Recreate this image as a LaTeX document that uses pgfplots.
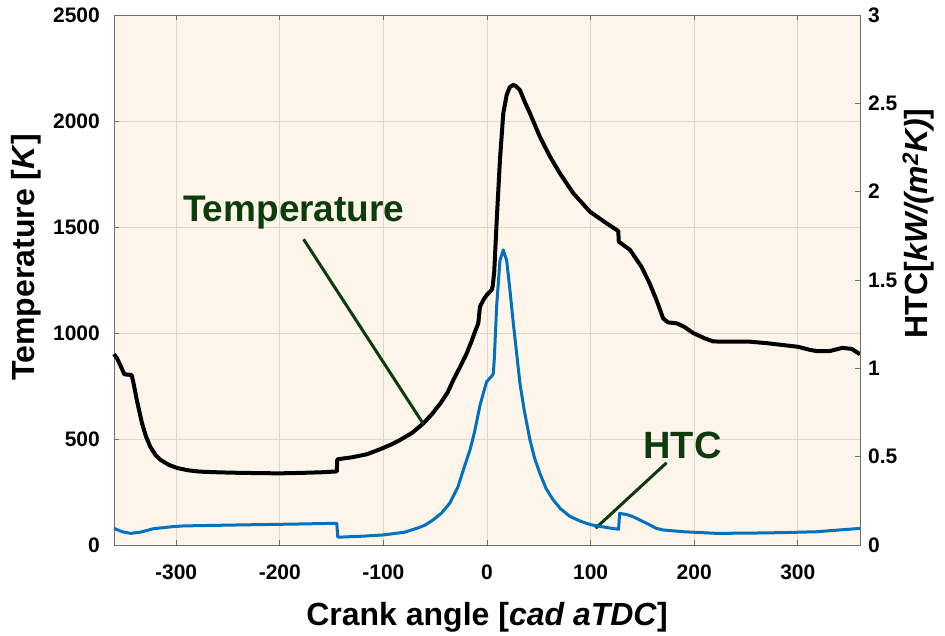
\documentclass[border=0pt]{standalone}
\usepackage{fontspec}
\setmainfont{Liberation Sans}
\usepackage{pgfplots}
\pgfplotsset{compat=1.18}
\definecolor{bgc}{RGB}{253,245,234}
\definecolor{gridc}{RGB}{221,214,204}
\definecolor{annc}{RGB}{12,60,12}
\definecolor{htcblue}{RGB}{0,114,189}
\definecolor{axc}{RGB}{110,110,110}
\begin{document}
\begin{tikzpicture}
\useasboundingbox (-114pt,-90pt) rectangle (831pt,545pt);
\begin{axis}[
 at={(0pt,0pt)}, anchor=south west,
 scale only axis, width=746pt, height=530pt,
 xmin=-360, xmax=360, ymin=0, ymax=2500,
 xtick={-300,-200,...,300}, ytick={0,500,...,2500},
 axis background/.style={fill=bgc},
 grid=major, major grid style={gridc, line width=0.8pt},
 axis line style={axc, line width=0.8pt},
 tick style={axc, line width=0.8pt}, major tick length=5pt,
 tick align=inside,
 ytick pos=left, xtick pos=both,
 /pgf/number format/assume math mode=true,
 /pgf/number format/1000 sep={},
 scaled ticks=false,
 tick label style={font=\fontsize{21}{24}\selectfont\bfseries, inner sep=0pt},
 yticklabel style={anchor=east, xshift=-14pt},
 xticklabel style={anchor=north, yshift=-20pt},
 xlabel={Crank angle [\textit{cad aTDC}]},
 xlabel style={font=\fontsize{32}{36}\selectfont\bfseries, at={(axis description cs:0.5,-0.151)}, anchor=base},
 ylabel={Temperature [\textit{K}]},
 ylabel style={font=\fontsize{32}{36}\selectfont\bfseries, at={(axis description cs:-0.117,0.543)}, anchor=center, rotate=0},
 clip=false,
]
\addplot[black, line width=4pt, line join=round] coordinates {
(-360,900) (-357,880) (-354,849) (-350,805) (-343,802) (-341,760) (-338,684) (-333,575) (-329,510) (-325,464) (-320,425) (-315,401) (-307,378) (-299,363) (-288,352) (-277,346) (-260,343) (-245,341) (-220,339) (-200,338) (-180,340) (-160,343) (-145,347) (-144.5,404) (-130,414) (-116,428) (-103,452) (-92,475) (-84,495) (-72,530) (-61.4,574) (-53,618) (-45,668) (-38,720) (-32.5,778) (-26,840) (-19.6,904) (-15,960) (-11.6,1006) (-8.4,1046) (-7.5,1090) (-6.8,1124) (-3,1160) (-0.3,1179) (4.5,1203) (5.5,1220) (7,1290) (9.4,1533) (12.5,1816) (15.7,2036) (19,2123) (22,2160) (25.4,2170) (28,2164) (31.8,2146) (36,2095) (41.5,2036) (51,1926) (60.8,1832) (70.4,1753) (83.3,1659) (99.4,1572) (115.5,1517) (126.7,1481) (127.2,1431) (138,1392) (149,1313) (157,1234) (164,1150) (170,1069) (174.6,1050) (183,1046) (190,1030) (199,1000) (210,975) (218.5,960) (254,959) (270,952) (286,943) (300,935) (312,920) (318,915) (331,915) (343,930) (352,925) (360,900)
};
\node[font=\fontsize{37}{40}\selectfont\bfseries, text=annc, anchor=base] at (axis cs:-186.5,1524) {Temperature};
\draw[annc, line width=3pt] (axis cs:-177,1442) -- (axis cs:-61.4,571);
\node[font=\fontsize{38}{40}\selectfont\bfseries, text=annc, anchor=base] at (axis cs:188.7,409) {HTC};
\draw[annc, line width=3pt] (axis cs:173.3,388) -- (axis cs:104.8,79);
\end{axis}
\begin{axis}[
 at={(0pt,0pt)}, anchor=south west,
 scale only axis, width=746pt, height=530pt,
 xmin=-360, xmax=360, ymin=0, ymax=3,
 axis y line*=right, axis x line=none,
 ytick={0,0.5,...,3},
 axis line style={axc, line width=0.8pt},
 tick style={axc, line width=0.8pt}, major tick length=5pt,
 tick align=inside,
 /pgf/number format/assume math mode=true,
 /pgf/number format/fixed,
 scaled ticks=false,
 tick label style={font=\fontsize{21}{24}\selectfont\bfseries, inner sep=0pt},
 yticklabel style={anchor=west, xshift=8pt},
 ylabel={HTC[\textit{kW/(m\textsuperscript{2}K)}]},
 ylabel style={font=\fontsize{32}{36}\selectfont\bfseries, at={(axis description cs:1.078,0.607)}, anchor=center, rotate=0},
]
\addplot[htcblue, line width=3pt, line join=round] coordinates {
(-360,0.094) (-352,0.075) (-344,0.066) (-335,0.072) (-322,0.092) (-305,0.103) (-293,0.108) (-245,0.113) (-180,0.119) (-145,0.123) (-144,0.044) (-120,0.050) (-100,0.057) (-80,0.072) (-68,0.094) (-60,0.112) (-52,0.142) (-44,0.18) (-36,0.236) (-28,0.33) (-22,0.44) (-16.4,0.538) (-12,0.64) (-6.8,0.79) (-3,0.87) (-0.3,0.925) (4.5,0.955) (6.1,0.97) (7,1.05) (9.4,1.36) (12.5,1.61) (15.7,1.67) (19,1.61) (22,1.45) (25.4,1.255) (28.6,1.085) (31.8,0.915) (36,0.76) (41.5,0.594) (46,0.49) (51,0.406) (57,0.32) (63.9,0.255) (71,0.205) (80,0.162) (90,0.135) (100,0.115) (110,0.104) (120,0.095) (127,0.089) (128,0.179) (135,0.172) (141,0.16) (155,0.12) (163,0.095) (170,0.085) (190,0.075) (221,0.066) (250,0.067) (285,0.07) (318,0.075) (340,0.085) (360,0.094)
};
\end{axis}
\end{tikzpicture}
\end{document}
